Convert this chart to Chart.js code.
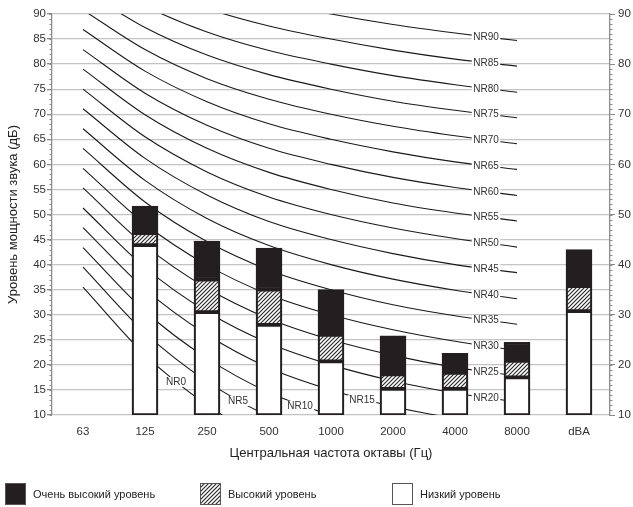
<!DOCTYPE html>
<html>
<head>
<meta charset="utf-8">
<script src="https://cdn.jsdelivr.net/npm/chart.js@4/dist/chart.umd.min.js"></script>
<style>
  html, body { margin: 0; padding: 0; background: #fff; }
  #wrap { width: 633px; height: 507px; position: relative; }
</style>
</head>
<body>
<div id="wrap"><canvas id="chart"></canvas></div>
<script>
// Octave band centre frequencies (Hz) plus the A-weighted total
const bands = ['63', '125', '250', '500', '1000', '2000', '4000', '8000', 'dBA'];

// Sound power level bands (dB): each level spans from the one below it
const floorLevel   = 10;
const lowTop       = [null, 43.9, 30.5, 28.0, 20.7, 15.2, 15.2, 17.5, 30.7];
const highTop      = [null, 46.3, 37.0, 35.0, 26.0, 18.1, 18.4, 20.8, 35.7];
const veryHighTop  = [null, 51.7, 44.7, 43.3, 35.0, 25.8, 22.3, 24.5, 43.0];

// Noise Rating curves, levels at 63 … 8000 Hz (dB)
const nr0  = [35.5, 22.0, 12.0,  4.8,  0.0, -3.5, -6.1, -8.0];
const nr5  = [39.5, 26.4, 16.7,  9.7,  5.0,  1.6, -1.0, -2.9];
const nr10 = [43.4, 30.7, 21.3, 14.5, 10.0,  6.7,  4.2,  2.3];
const nr15 = [47.4, 35.1, 26.0, 19.4, 15.0, 11.7,  9.3,  7.5];
const nr20 = [51.3, 39.4, 30.6, 24.3, 20.0, 16.8, 14.4, 12.6];
const nr25 = [55.3, 43.8, 35.3, 29.2, 25.0, 21.9, 19.5, 17.8];
const nr30 = [59.2, 48.1, 39.9, 34.0, 30.0, 27.0, 24.7, 22.9];
const nr35 = [63.2, 52.5, 44.6, 38.9, 35.0, 32.0, 29.8, 28.1];
const nr40 = [67.1, 56.8, 49.2, 43.8, 40.0, 37.1, 34.9, 33.2];
const nr45 = [71.1, 61.2, 53.9, 48.6, 45.0, 42.2, 40.0, 38.4];
const nr50 = [75.0, 65.5, 58.5, 53.5, 50.0, 47.3, 45.2, 43.5];
const nr55 = [79.0, 69.9, 63.2, 58.4, 55.0, 52.3, 50.3, 48.7];
const nr60 = [82.9, 74.2, 67.8, 63.2, 60.0, 57.4, 55.4, 53.8];
const nr65 = [86.9, 78.6, 72.5, 68.1, 65.0, 62.5, 60.5, 59.0];
const nr70 = [90.8, 82.9, 77.1, 73.0, 70.0, 67.6, 65.7, 64.1];
const nr75 = [94.8, 87.3, 81.8, 77.9, 75.0, 72.6, 70.8, 69.3];
const nr80 = [98.7, 91.6, 86.4, 82.7, 80.0, 77.7, 75.9, 74.4];
const nr85 = [102.7, 96.0, 91.1, 87.6, 85.0, 82.8, 81.0, 79.6];
const nr90 = [106.6, 100.3, 95.7, 92.5, 90.0, 87.9, 86.2, 84.7];

const nrCurves = [
  ['NR0', nr0], ['NR5', nr5], ['NR10', nr10], ['NR15', nr15], ['NR20', nr20],
  ['NR25', nr25], ['NR30', nr30], ['NR35', nr35], ['NR40', nr40], ['NR45', nr45],
  ['NR50', nr50], ['NR55', nr55], ['NR60', nr60], ['NR65', nr65], ['NR70', nr70],
  ['NR75', nr75], ['NR80', nr80], ['NR85', nr85], ['NR90', nr90]
];

// Axis tick values
const leftTicks  = [10, 15, 20, 25, 30, 35, 40, 45, 50, 55, 60, 65, 70, 75, 80, 85, 90];
const rightTicks = [10, 20, 30, 40, 50, 60, 70, 80, 90];

// Legend captions
const legendLabels = ['Очень высокий уровень', 'Высокий уровень', 'Низкий уровень'];

const FONT = '"Liberation Sans", Arial, sans-serif';
const INK = '#231f20';

// Diagonal hatch fill for the middle level
function makeHatch() {
  const s = 4;
  const c = document.createElement('canvas');
  c.width = s; c.height = s;
  const g = c.getContext('2d');
  g.fillStyle = '#ffffff';
  g.fillRect(0, 0, s, s);
  g.strokeStyle = '#2a2a2a';
  g.lineWidth = 1.15;
  g.beginPath();
  g.moveTo(-1, s + 1); g.lineTo(s + 1, -1);
  g.moveTo(-1, 1);     g.lineTo(1, -1);
  g.moveTo(s - 1, s + 1); g.lineTo(s + 1, s - 1);
  g.stroke();
  return g.createPattern(c, 'repeat');
}
const hatch = makeHatch();

function span(lo, hi) {
  return lo.map((v, i) => (hi[i] == null ? null : [v == null ? floorLevel : v, hi[i]]));
}
const floorArr = bands.map(() => floorLevel);

const barStyle = {
  type: 'bar',
  grouped: false,
  barThickness: 26,
  borderWidth: 2.2,
  borderColor: INK,
  borderSkipped: false,
  order: 0,
  yAxisID: 'y'
};

const datasets = [
  Object.assign({}, barStyle, { label: legendLabels[2], data: span(floorArr, lowTop), backgroundColor: '#ffffff' }),
  Object.assign({}, barStyle, { label: legendLabels[1], data: span(lowTop, highTop), backgroundColor: hatch }),
  Object.assign({}, barStyle, { label: legendLabels[0], data: span(highTop, veryHighTop), backgroundColor: INK })
];
const firstLine = datasets.length;
nrCurves.forEach(([name, vals]) => {
  datasets.push({
    type: 'line',
    label: name,
    data: vals.concat([null]),
    borderColor: '#1a1a1a',
    borderWidth: 1.1,
    pointRadius: 0,
    cubicInterpolationMode: 'monotone',
    fill: false,
    order: 1,
    yAxisID: 'y'
  });
});

// Curve labels sit mid-segment, on a white patch that breaks the line
const nrLabelPlugin = {
  id: 'nrLabels',
  afterDatasetsDraw(chart) {
    const ctx = chart.ctx;
    const area = chart.chartArea;
    ctx.save();
    ctx.font = '10px ' + FONT;
    ctx.textAlign = 'center';
    ctx.textBaseline = 'middle';
    nrCurves.forEach(([name], i) => {
      const meta = chart.getDatasetMeta(firstLine + i);
      const seg = i < 4 ? i + 1 : 6;
      const p0 = meta.data[seg], p1 = meta.data[seg + 1];
      const x = (p0.x + p1.x) / 2;
      const y = (p0.y + p1.y) / 2 + (i < 4 ? 2 : 0);
      if (y < area.top || y > area.bottom) return;
      const w = ctx.measureText(name).width + 3;
      ctx.fillStyle = '#ffffff';
      ctx.fillRect(x - w / 2, y - 5, w, 10);
      ctx.fillStyle = '#333333';
      ctx.fillText(name, x, y + 0.5);
    });
    ctx.restore();
  }
};

// 1 dB minor ticks on both vertical axes
const minorTickPlugin = {
  id: 'minorTicks',
  afterDraw(chart) {
    const { ctx, chartArea: a } = chart;
    const y = chart.scales.y;
    ctx.save();
    ctx.strokeStyle = '#8c8c8c';
    ctx.lineWidth = 1;
    ctx.beginPath();
    for (let v = y.min; v <= y.max; v++) {
      const py = Math.round(y.getPixelForValue(v)) + 0.5;
      ctx.moveTo(a.left - 2.5, py); ctx.lineTo(a.left, py);
      ctx.moveTo(a.right, py); ctx.lineTo(a.right + 2.5, py);
    }
    ctx.stroke();
    ctx.restore();
  }
};

// Legend row under the axis title
const legendPlugin = {
  id: 'levelLegend',
  afterDraw(chart) {
    const ctx = chart.ctx;
    const items = [
      { x: 5,   fill: INK,       label: legendLabels[0] },
      { x: 200, fill: hatch,     label: legendLabels[1] },
      { x: 392, fill: '#ffffff', label: legendLabels[2] }
    ];
    const top = 483, h = 22, w = 21;
    ctx.save();
    ctx.font = '11px ' + FONT;
    ctx.textBaseline = 'middle';
    ctx.textAlign = 'left';
    items.forEach(it => {
      ctx.fillStyle = it.fill;
      ctx.fillRect(it.x, top, w, h);
      ctx.strokeStyle = '#555555';
      ctx.lineWidth = 1;
      ctx.strokeRect(it.x + 0.5, top + 0.5, w - 1, h - 1);
      ctx.fillStyle = '#222222';
      ctx.fillText(it.label, it.x + w + 7, top + h / 2 + 0.5);
    });
    ctx.restore();
  }
};

new Chart(document.getElementById('chart'), {
  data: { labels: bands, datasets },
  plugins: [nrLabelPlugin, minorTickPlugin, legendPlugin],
  options: {
    responsive: true,
    maintainAspectRatio: false,
    animation: false,
    layout: { padding: { top: 14, left: 0, right: 0, bottom: 40 } },
    plugins: {
      legend: { display: false },
      tooltip: { enabled: false },
      title: { display: false }
    },
    scales: {
      x: {
        type: 'category',
        offset: true,
        grid: { display: false, drawTicks: false },
        border: { display: false },
        ticks: { color: '#333', font: { family: FONT, size: 11.5 }, padding: 10, maxRotation: 0, autoSkip: false },
        title: {
          display: true,
          text: 'Центральная частота октавы (Гц)',
          color: '#222',
          font: { family: FONT, size: 13 },
          padding: { top: 4, bottom: 6 }
        },
        afterFit(s) { s.height = 52; }
      },
      y: {
        position: 'left',
        min: 10,
        max: 90,
        afterBuildTicks(s) { s.ticks = leftTicks.map(v => ({ value: v })); },
        grid: { color: '#c4c4c4', lineWidth: 1.3, tickLength: 5, tickColor: '#888' },
        border: { display: true, color: '#8c8c8c', width: 1.3 },
        ticks: { color: '#333', font: { family: FONT, size: 11.5 }, padding: 1 },
        title: {
          display: true,
          text: 'Уровень мощности звука (дБ)',
          color: '#222',
          font: { family: FONT, size: 13 },
          padding: { top: 6, bottom: 0 }
        },
        afterFit(s) { s.width = 52; }
      },
      y2: {
        position: 'right',
        min: 10,
        max: 90,
        afterBuildTicks(s) { s.ticks = rightTicks.map(v => ({ value: v })); },
        grid: { drawOnChartArea: false, tickLength: 5, tickColor: '#888' },
        border: { display: true, color: '#8c8c8c', width: 1.3 },
        ticks: { color: '#333', font: { family: FONT, size: 11.5 }, padding: 3 },
        afterFit(s) { s.width = 23; }
      }
    }
  }
});
</script>
</body>
</html>
